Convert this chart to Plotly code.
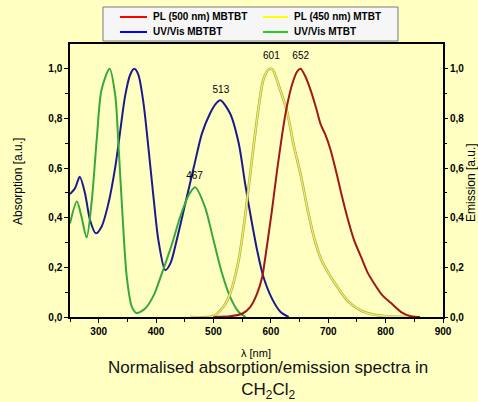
import plotly.graph_objects as go

# UV/Vis absorption, MBTBT
uv_mbtbt_nm = [250, 259, 267, 276, 285, 295, 305, 317, 329, 337, 346, 355, 362, 369, 378, 387, 396, 404,
               416, 425, 436, 451, 466, 480, 494, 503, 512, 529, 544, 555, 564, 576, 587, 602, 617, 631]
uv_mbtbt = [0.495, 0.52, 0.565, 0.50, 0.39, 0.337, 0.364, 0.458, 0.606, 0.74, 0.89, 0.977, 1.0, 0.977, 0.863,
            0.674, 0.472, 0.31, 0.189, 0.216, 0.31, 0.458, 0.606, 0.74, 0.82, 0.856, 0.873, 0.82, 0.70, 0.54,
            0.418, 0.27, 0.162, 0.074, 0.02, 0.0]

# UV/Vis absorption, MTBT
uv_mtbt_nm = [250, 262, 270, 279, 288, 297, 305, 319, 329, 334, 341, 349, 358, 366, 381, 396, 410, 428,
              442, 457, 468, 485, 500, 515, 529, 544, 556]
uv_mtbt = [0.377, 0.465, 0.404, 0.32, 0.47, 0.728, 0.916, 1.0, 0.89, 0.714, 0.43, 0.16, 0.04, 0.016, 0.034,
           0.088, 0.175, 0.296, 0.404, 0.492, 0.523, 0.445, 0.31, 0.175, 0.081, 0.02, 0.0]

# PL emission, MTBT (excitation 450 nm)
pl_mtbt_nm = [460, 500, 517, 529, 544, 555, 567, 579, 587, 596, 601, 605, 617, 628, 640, 652, 663, 675,
              687, 701, 716, 733, 751, 768, 797, 850]
pl_mtbt = [0.0, 0.004, 0.04, 0.094, 0.23, 0.404, 0.633, 0.85, 0.957, 0.997, 1.0, 0.99, 0.91, 0.83, 0.69,
           0.573, 0.445, 0.323, 0.236, 0.175, 0.121, 0.067, 0.034, 0.016, 0.004, 0.0]

# PL emission, MBTBT (excitation 500 nm)
pl_mbtbt_nm = [500, 529, 550, 564, 576, 585, 593, 602, 611, 620, 628, 637, 646, 652, 660, 669, 678, 687,
               695, 704, 713, 722, 733, 745, 757, 768, 780, 794, 809, 827, 844, 860]
pl_mbtbt = [0.0, 0.003, 0.013, 0.04, 0.094, 0.162, 0.283, 0.431, 0.593, 0.74, 0.849, 0.937, 0.99, 1.0, 0.97,
            0.916, 0.849, 0.775, 0.735, 0.674, 0.593, 0.505, 0.404, 0.31, 0.243, 0.182, 0.135, 0.088, 0.057,
            0.02, 0.003, 0.0]

# peak labels
peak_nm = [513, 467, 601, 652]
peak_y = [0.912, 0.565, 1.05, 1.05]

y_ticks = [0, 0.2, 0.4, 0.6, 0.8, 1.0]
y_ticktext = ["0,0", "0,2", "0,4", "0,6", "0,8", "1,0"]
x_ticks = [300, 400, 500, 600, 700, 800, 900]

legend_names = ["PL (500 nm) MBTBT", "PL (450 nm) MTBT", "UV/Vis MBTBT", "UV/Vis MTBT"]
legend_colors = ["#FF0000", "#FFFF00", "#0000FF", "#22CC22"]

FONT = "Arial, Liberation Sans, sans-serif"
BG = "#FFFFC2"

# plot area in pixels
L, R, T, B = 70, 443, 44, 317


def px(x):
    return (x - L) / (R - L)


def py(y):
    return (B - y) / (B - T)


fig = go.Figure()

# data lines
fig.add_trace(go.Scatter(x=uv_mbtbt_nm, y=uv_mbtbt, mode="lines", line=dict(color="#1A1A8E", width=2, shape="spline", smoothing=0.8)))
fig.add_trace(go.Scatter(x=uv_mtbt_nm, y=uv_mtbt, mode="lines", line=dict(color="#38A838", width=2, shape="spline", smoothing=0.8)))
fig.add_trace(go.Scatter(x=pl_mtbt_nm, y=pl_mtbt, mode="lines", line=dict(color="#AEAE3A", width=2.6, shape="spline", smoothing=0.8)))
fig.add_trace(go.Scatter(x=pl_mtbt_nm, y=pl_mtbt, mode="lines", line=dict(color="#ECEC70", width=1.3, shape="spline", smoothing=0.8)))
fig.add_trace(go.Scatter(x=pl_mbtbt_nm, y=pl_mbtbt, mode="lines", line=dict(color="#A01818", width=2, shape="spline", smoothing=0.6)))

fig.add_trace(go.Scatter(x=peak_nm, y=peak_y, mode="text", text=[str(v) for v in peak_nm], cliponaxis=False,
                         textfont=dict(size=10, color="black", family=FONT)))

# dummy trace for right axis
fig.add_trace(go.Scatter(x=[None], y=[None], yaxis="y2"))

fig.update_layout(
    width=478, height=402, showlegend=False,
    paper_bgcolor=BG, plot_bgcolor=BG,
    margin=dict(l=L, r=478 - R, t=T, b=402 - B, autoexpand=False),
    font=dict(family=FONT, color="black"),
    xaxis=dict(range=[250, 900], tickvals=x_ticks, ticktext=[f"<b>{v}</b>" for v in x_ticks],
               ticks="outside", ticklen=4, tickwidth=1, tickcolor="black",
               minor=dict(tickvals=[250, 350, 450, 550, 650, 750, 850], ticks="outside", ticklen=3, tickcolor="black"),
               showline=True, linecolor="black", linewidth=1.5, mirror=True, showgrid=False, zeroline=False,
               tickfont=dict(size=10)),
    yaxis=dict(range=[0, 1.1], tickvals=y_ticks, ticktext=[f"<b>{t}</b>" for t in y_ticktext],
               ticks="outside", ticklen=4, tickcolor="black",
               minor=dict(tickvals=[0.1, 0.3, 0.5, 0.7, 0.9], ticks="outside", ticklen=3, tickcolor="black"),
               showline=True, linecolor="black", linewidth=1.5, mirror=True, showgrid=False, zeroline=False,
               tickfont=dict(size=10)),
    yaxis2=dict(range=[0, 1.1], overlaying="y", side="right", tickvals=y_ticks,
                ticktext=[f"<b>{t}</b>" for t in y_ticktext],
                ticks="outside", ticklen=4, tickcolor="black",
                minor=dict(tickvals=[0.1, 0.3, 0.5, 0.7, 0.9], ticks="outside", ticklen=3, tickcolor="black"),
                showline=False, showgrid=False, zeroline=False, tickfont=dict(size=10)),
)

# legend box, drawn by hand so the rows can be as tight as in the original
fig.add_shape(type="rect", xref="paper", yref="paper", x0=px(103), x1=px(398), y0=py(41), y1=py(7),
              fillcolor="#F6F6F6", line=dict(color="#7A7A7A", width=1), layer="above")
line_x = [(120, 147), (263, 288)]
text_x = [151, 292]
row_y = [17, 32]
for i, (name, col) in enumerate(zip(legend_names, legend_colors)):
    c, r = i % 2, i // 2
    fig.add_shape(type="line", xref="paper", yref="paper", x0=px(line_x[c][0]), x1=px(line_x[c][1]),
                  y0=py(row_y[r]), y1=py(row_y[r]), line=dict(color=col, width=2), layer="above")
    fig.add_annotation(text=f"<b>{name}</b>", xref="paper", yref="paper", x=px(text_x[c]), y=py(row_y[r]),
                       xanchor="left", yanchor="middle", showarrow=False, font=dict(size=10))

fig.add_annotation(text="Absorption [a.u.]", xref="paper", yref="paper", x=px(18), y=py(181),
                   xanchor="center", yanchor="middle",
                   textangle=-90, showarrow=False, font=dict(size=12))
fig.add_annotation(text="Emission [a.u.]", xref="paper", yref="paper", x=px(471), y=py(183),
                   xanchor="center", yanchor="middle",
                   textangle=-90, showarrow=False, font=dict(size=12))
fig.add_annotation(text="λ [nm]", xref="paper", yref="paper", x=px(256), y=py(353), yanchor="middle",
                   showarrow=False, font=dict(size=11))
fig.add_annotation(text="Normalised absorption/emission spectra in<br>CH<sub>2</sub>Cl<sub>2</sub>",
                   xref="paper", yref="paper", x=px(268), y=py(380), yanchor="middle",
                   showarrow=False, font=dict(size=17, color="#111111"))

# page body has a default margin; remove it so the figure fills the window
fig.write_html("out.html", config={"displayModeBar": False},
               post_script="document.body.style.margin='0';")
